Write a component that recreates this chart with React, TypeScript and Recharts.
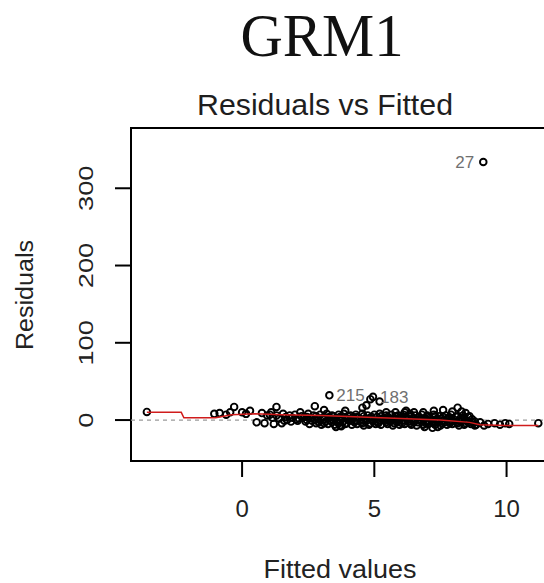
import { ScatterChart, Scatter, XAxis, YAxis, ReferenceLine, ReferenceArea } from 'recharts'

// fitted value, residual
const leftPoints: [number, number][] = [
  [-3.6, 10.5], [-1.05, 8], [-0.85, 9], [-0.6, 7], [-0.45, 10], [-0.3, 17],
  [0.0, 10], [0.15, 8], [0.3, 12], [0.55, -3], [0.75, 9], [0.95, 6], [1.1, 10], [1.3, 17],
]

const upperPoints: [number, number][] = [
  [2.2, 10], [2.75, 18], [3.1, 13], [3.9, 12], [4.55, 16], [4.7, 19], [4.85, 27], [5.2, 24],
  [5.45, 10], [5.8, 10], [6.15, 10], [6.2, 12], [6.5, 10], [6.85, 10],
  [7.25, 12], [7.6, 13], [7.95, 11], [8.15, 16], [8.3, 11], [8.45, 9], [8.6, 5],
]

const bandTop: [number, number][] = [
  [1.05, 7], [1.3, 6], [1.55, 8], [1.8, 6], [2.0, 7], [2.25, 5], [2.5, 8], [2.7, 6], [2.95, 7],
  [3.2, 8], [3.4, 6], [3.65, 7], [3.85, 8], [4.1, 6], [4.3, 7], [4.55, 8], [4.75, 6], [5.0, 7],
  [5.2, 8], [5.45, 6], [5.65, 7], [5.9, 6], [6.1, 7], [6.35, 8], [6.55, 6], [6.8, 7], [7.0, 6],
  [7.25, 7], [7.45, 5], [7.7, 6], [7.9, 7], [8.15, 5], [8.35, 6], [8.55, 4],
]

const bandUpperMid: [number, number][] = [
  [2.45, 4], [2.8, 5], [3.1, 4], [3.45, 5], [3.7, 4], [4.0, 5], [4.35, 4], [4.6, 5], [4.9, 4],
  [5.25, 5], [5.5, 4], [5.8, 5], [6.05, 4], [6.4, 5], [6.7, 4], [7.0, 4], [7.3, 5], [7.6, 4],
  [7.85, 3], [8.1, 4], [8.4, 3],
]

const bandMid: [number, number][] = [
  [1.15, 3], [1.4, 2], [1.65, 4], [1.9, 3], [2.15, 2], [2.35, 4], [2.6, 3], [2.85, 2], [3.05, 3],
  [3.3, 4], [3.5, 2], [3.75, 3], [3.95, 2], [4.2, 4], [4.4, 3], [4.65, 2], [4.85, 3], [5.1, 4],
  [5.3, 2], [5.55, 3], [5.75, 2], [6.0, 3], [6.2, 4], [6.45, 2], [6.65, 3], [6.9, 2], [7.1, 3],
  [7.35, 1], [7.55, 2], [7.8, 3], [8.0, 1], [8.25, 2], [8.45, 0], [8.7, 1],
]

const bandZero: [number, number][] = [
  [1.7, 0], [2.05, 1], [2.45, 0], [2.75, 0], [3.1, 1], [3.45, 0], [3.7, 0], [4.0, 1], [4.3, 0],
  [4.6, 0], [4.9, 1], [5.2, 0], [5.5, 0], [5.8, 1], [6.1, 0], [6.4, 0], [6.7, 1], [7.0, 0],
  [7.3, 0], [7.6, -1], [7.9, 0], [8.2, -1], [8.5, -1],
]

const bandLow: [number, number][] = [
  [1.6, -1], [1.85, -2], [2.1, -1], [2.4, -2], [2.65, -1], [2.9, -3], [3.15, -2], [3.35, -1],
  [3.6, -2], [3.8, -3], [4.05, -1], [4.25, -2], [4.5, -3], [4.7, -1], [4.95, -2], [5.15, -3],
  [5.4, -1], [5.6, -2], [5.85, -3], [6.05, -1], [6.3, -2], [6.5, -3], [6.75, -1], [6.95, -2],
  [7.2, -3], [7.4, -2], [7.65, -3], [7.85, -2], [8.1, -3], [8.3, -2], [8.55, -3], [8.8, -2],
]

const bandLowMid: [number, number][] = [
  [2.8, -4], [3.1, -4], [3.4, -3], [3.65, -4], [3.95, -4], [4.25, -3], [4.55, -4], [4.85, -4],
  [5.15, -4], [5.45, -3], [5.75, -4], [6.05, -4], [6.35, -4], [6.65, -3], [6.95, -4], [7.25, -4],
  [7.55, -4], [7.85, -4], [8.15, -4], [8.45, -4], [8.75, -4],
]

const bandBottom: [number, number][] = [
  [0.85, -4], [1.2, -5], [1.5, -4], [2.55, -5], [3.0, -6], [3.25, -5], [3.5, -6], [3.7, -7],
  [3.9, -5], [4.15, -6], [4.35, -5], [4.6, -7], [4.8, -6], [5.05, -5], [5.25, -6], [5.5, -5],
  [5.7, -7], [5.95, -6], [6.15, -5], [6.4, -6], [6.6, -7], [6.85, -6], [7.05, -5], [7.3, -6],
  [7.5, -7], [7.75, -6], [7.95, -5], [8.2, -7], [8.4, -6], [8.65, -5], [8.8, -7],
  [3.55, -9], [3.75, -8], [6.9, -9], [7.2, -10], [7.4, -9],
]

const rightPoints: [number, number][] = [
  [8.85, -6], [9.0, -3], [9.15, -7], [9.3, -5], [9.55, -4], [9.75, -6], [9.95, -4], [10.1, -5],
  [11.2, -4],
]

const labelled: [number, number, string][] = [
  [9.12, 334, '27'],
  [3.3, 32, '215'],
  [4.95, 30, '183'],
]

const smoothLine: [number, number][] = [
  [-3.6, 10], [-2.3, 10], [-2.2, 3], [-1.0, 3], [-0.4, 7], [0.5, 8], [1.5, 7], [3, 6],
  [4.5, 4], [6, 2], [7.5, 0], [8.6, -3], [9.0, -6], [10, -7], [11.2, -7],
]

const xTicks = [0, 5, 10]
const yTicks = [0, 100, 200, 300]
const labelsOnLeft = ['27']

const X_DOMAIN: [number, number] = [-4.2, 11.68]
const Y_DOMAIN: [number, number] = [-53, 378]

const FONT = '"Liberation Sans", Arial, sans-serif'

const toXY = (pts: [number, number][]) => pts.map(([x, y]) => ({ x, y }))

const allPoints = toXY([
  ...leftPoints, ...upperPoints, ...bandTop, ...bandUpperMid, ...bandMid, ...bandZero,
  ...bandLow, ...bandLowMid, ...bandBottom, ...rightPoints,
])
const labelData = labelled.map(([x, y, label]) => ({ x, y, label }))

const OpenCircle = (props: any) => (
  <circle cx={props.cx} cy={props.cy} r={3.3} fill="none" stroke="#000" strokeWidth={1.9} />
)

const LabelledCircle = (props: any) => {
  const left = labelsOnLeft.includes(props.payload.label)
  return (
    <g>
      <circle cx={props.cx} cy={props.cy} r={3.3} fill="none" stroke="#000" strokeWidth={1.9} />
      <text
        x={left ? props.cx - 9 : props.cx + 7}
        y={props.cy + 6}
        textAnchor={left ? 'end' : 'start'}
        fontSize={17}
        fontFamily={FONT}
        fill="#707070"
      >
        {props.payload.label}
      </text>
    </g>
  )
}

const XTick = ({ x, y, payload }: any) => (
  <text x={x} y={y + 38} textAnchor="middle" fontSize={24} fontFamily={FONT} fill="#222">
    {payload.value}
  </text>
)

const YTick = ({ x, y, payload }: any) => (
  <text
    transform={`translate(${x - 20},${y}) rotate(-90) scale(1.3,1)`}
    textAnchor="middle"
    fontSize={21}
    fontFamily={FONT}
    fill="#222"
  >
    {payload.value}
  </text>
)

export default function App() {
  return (
    <div style={{ position: 'fixed', left: 0, top: 0, width: 544, height: 583, overflow: 'hidden', background: '#fff' }}>
      <ScatterChart width={572} height={583} margin={{ top: 128, right: 21, bottom: 62, left: 71 }}>
        <XAxis
          type="number"
          dataKey="x"
          domain={X_DOMAIN}
          ticks={xTicks}
          allowDataOverflow
          axisLine={false}
          tickSize={16}
          tickLine={{ stroke: '#000', strokeWidth: 2 }}
          tick={<XTick />}
          height={60}
        />
        <YAxis
          type="number"
          dataKey="y"
          domain={Y_DOMAIN}
          ticks={yTicks}
          allowDataOverflow
          axisLine={false}
          tickSize={16}
          tickLine={{ stroke: '#000', strokeWidth: 2 }}
          tick={<YTick />}
          width={60}
        />
        <ReferenceArea
          x1={X_DOMAIN[0]}
          x2={X_DOMAIN[1]}
          y1={Y_DOMAIN[0]}
          y2={Y_DOMAIN[1]}
          fill="none"
          stroke="#000"
          strokeWidth={2}
          fillOpacity={0}
        />
        <Scatter data={allPoints} shape={<OpenCircle />} isAnimationActive={false} />
        <Scatter data={labelData} shape={<LabelledCircle />} isAnimationActive={false} />
        <Scatter
          data={toXY(smoothLine)}
          line={{ stroke: '#d01c1c', strokeWidth: 1.5 }}
          shape={() => <g />}
          isAnimationActive={false}
        />
        <ReferenceLine y={0} stroke="#9a9a9a" strokeDasharray="4 4" strokeWidth={1.2} />
      </ScatterChart>
      <svg width={544} height={583} style={{ position: 'absolute', left: 0, top: 0, pointerEvents: 'none' }}>
        <text
          x={322}
          y={56}
          textAnchor="middle"
          fontSize={62}
          fontFamily='"Liberation Serif", "Times New Roman", serif'
          textLength={163}
          lengthAdjust="spacingAndGlyphs"
          fill="#111"
        >
          GRM1
        </text>
        <text
          x={325}
          y={115}
          textAnchor="middle"
          fontSize={30}
          fontFamily={FONT}
          textLength={256}
          lengthAdjust="spacingAndGlyphs"
          fill="#1e1e1e"
        >
          Residuals vs Fitted
        </text>
        <text
          x={340}
          y={578}
          textAnchor="middle"
          fontSize={25}
          fontFamily={FONT}
          textLength={153}
          lengthAdjust="spacingAndGlyphs"
          fill="#222"
        >
          Fitted values
        </text>
        <text
          transform="translate(33,295) rotate(-90)"
          textAnchor="middle"
          fontSize={23}
          fontFamily={FONT}
          textLength={110}
          lengthAdjust="spacingAndGlyphs"
          fill="#222"
        >
          Residuals
        </text>
      </svg>
    </div>
  )
}
